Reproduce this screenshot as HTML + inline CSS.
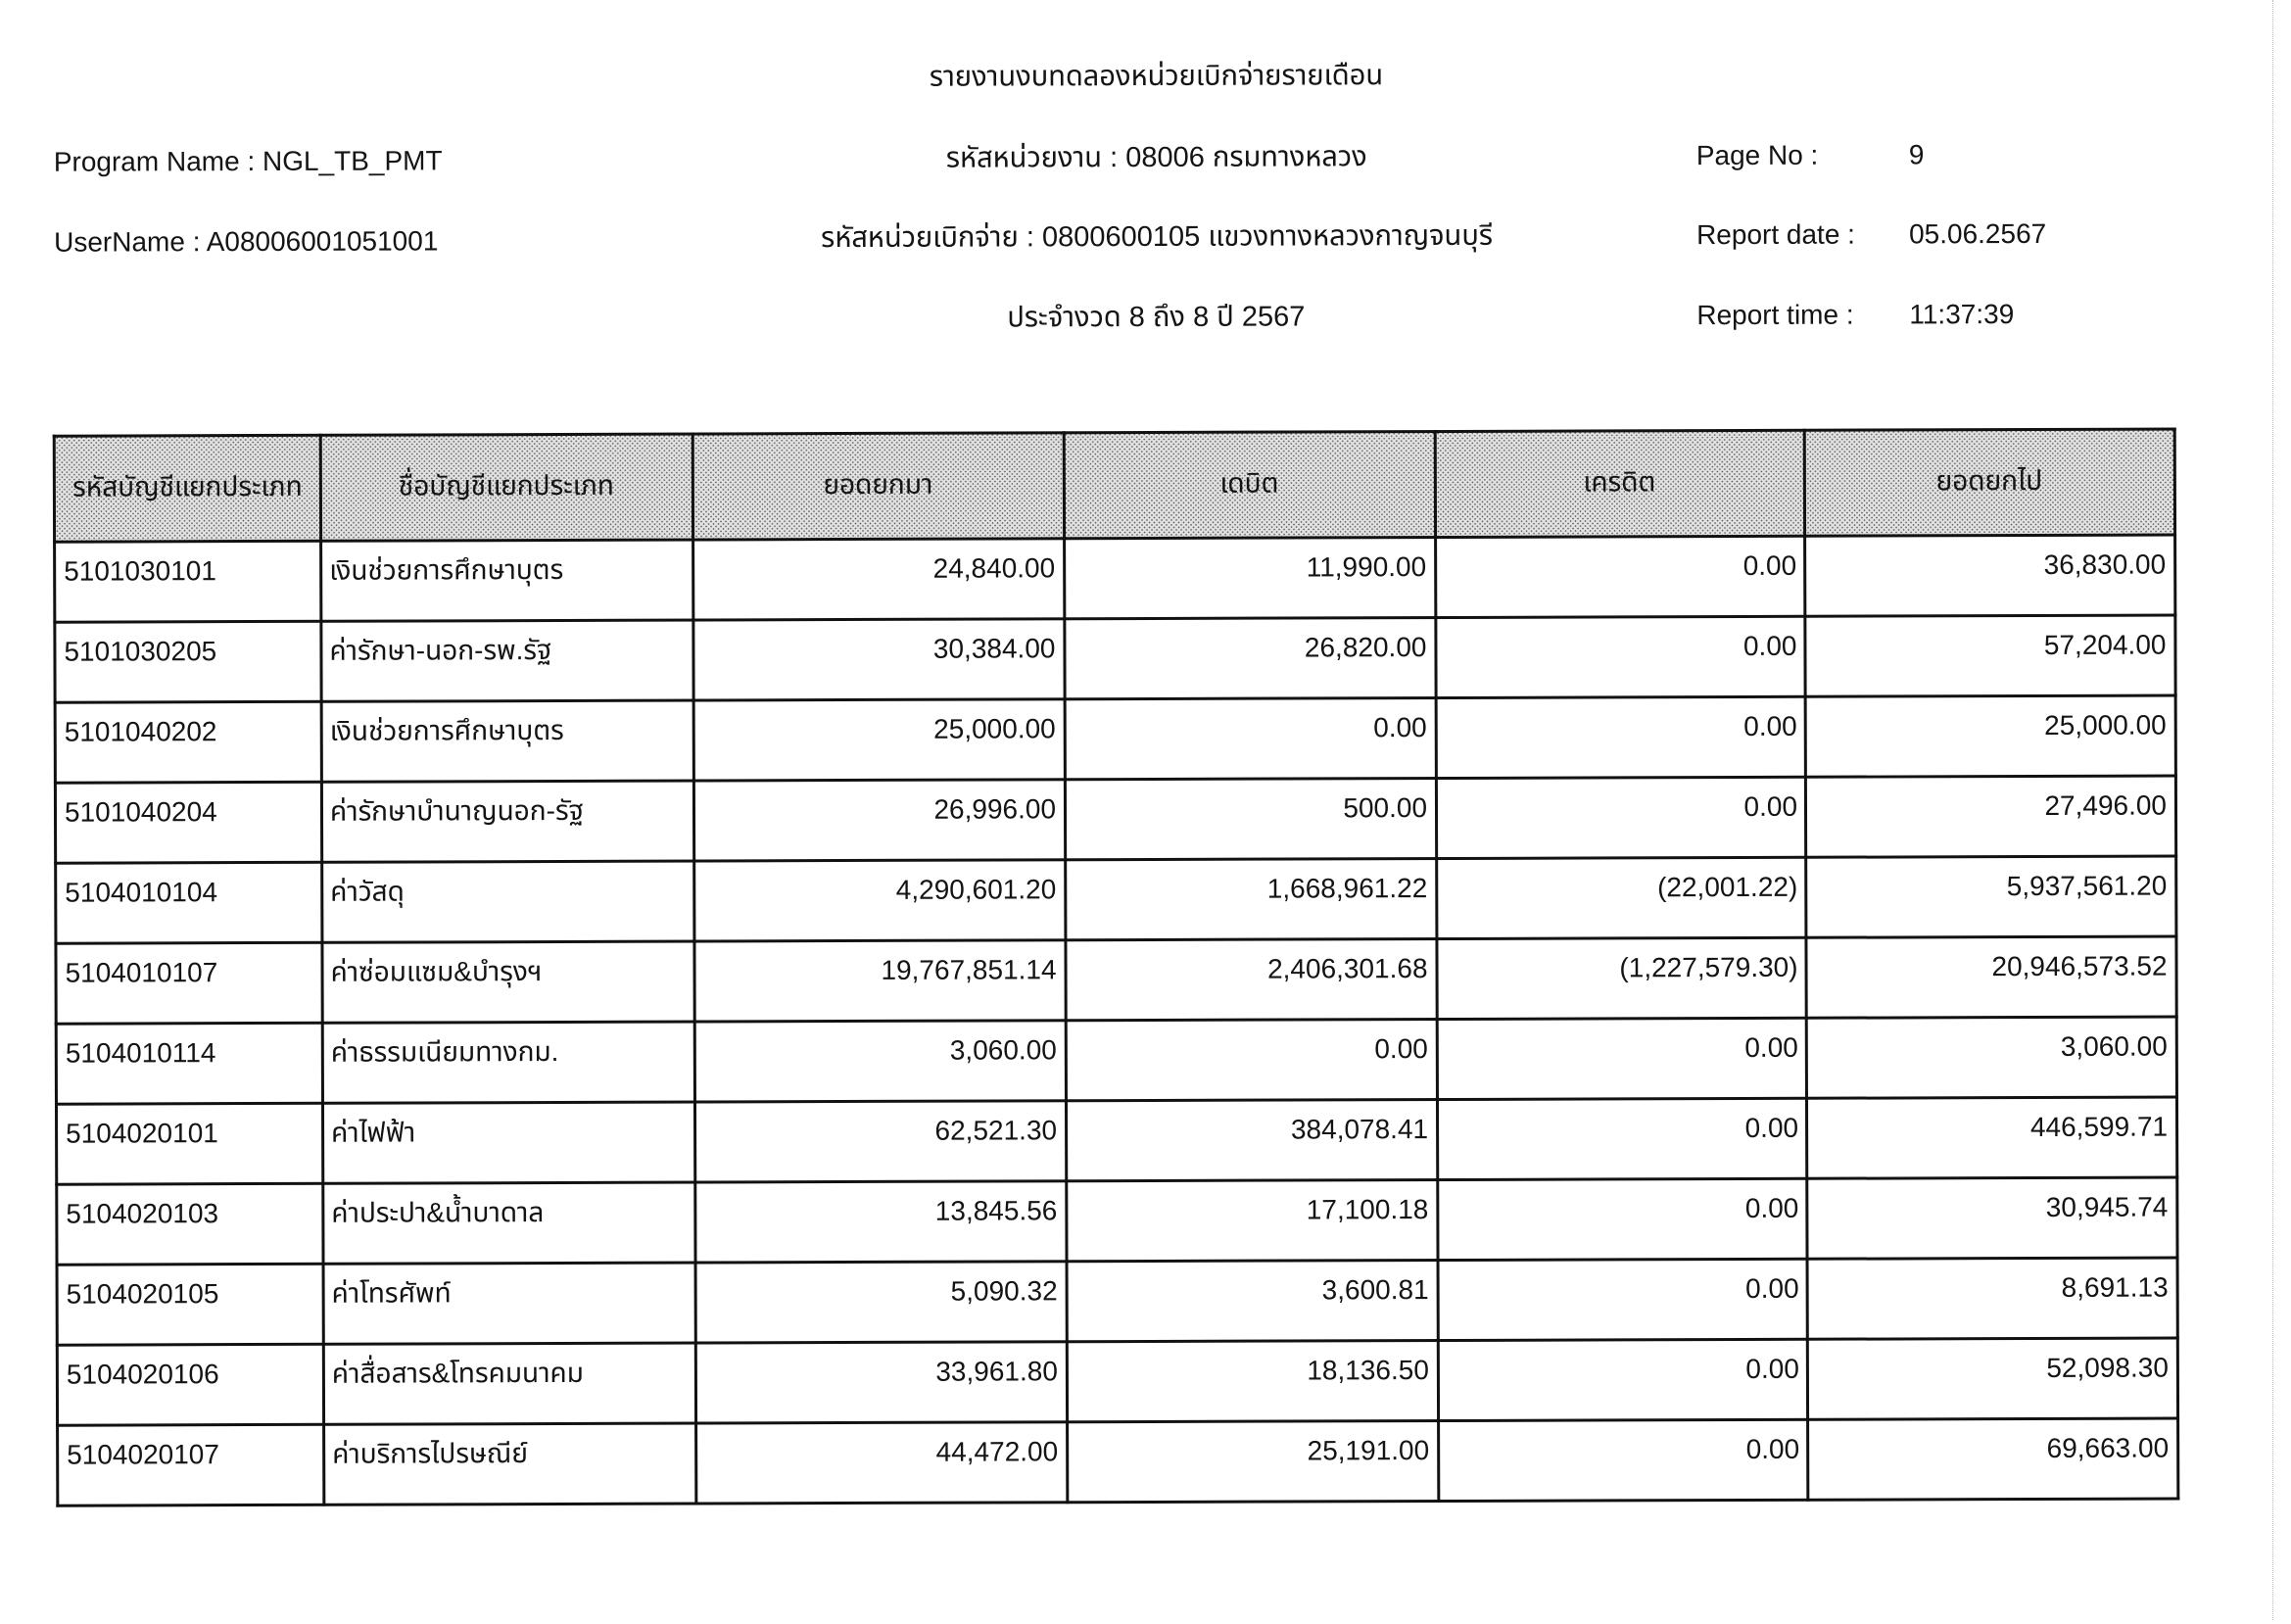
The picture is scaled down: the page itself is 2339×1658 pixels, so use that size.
<!DOCTYPE html>
<html>
<head>
<meta charset="utf-8">
<style>
  html,body{margin:0;padding:0;background:#fff;}
  body{width:2339px;height:1654px;position:relative;overflow:hidden;}
  #pg{position:absolute;left:0;top:0;width:2339px;height:1654px;transform:rotate(-0.19deg);transform-origin:1170px 827px;
      font-family:"Liberation Sans","Tahoma","Noto Sans Thai","Loma","Garuda","Norasi","DejaVu Sans",sans-serif;color:#141414;font-size:28px;}
  .t{position:absolute;height:40px;line-height:40px;white-space:nowrap;}
  .c{text-align:center;}
  .r{text-align:right;}
  .th{font-size:29px;}
  .hl{position:absolute;left:55px;width:2168px;height:3px;background:#111;}
  .vl{position:absolute;top:440px;height:1095px;width:3px;background:#111;}
  .hdr{position:absolute;left:57px;top:441px;width:2164px;height:108px;
       background-color:#e2e2e2;
       background-image:radial-gradient(circle,#555 0.6px,transparent 1px),radial-gradient(circle,#555 0.6px,transparent 1px);
       background-size:5px 5px,5px 5px;background-position:0 0,2.5px 2.5px;}
  .edge{position:absolute;left:2320px;top:0;width:0;height:1654px;border-left:1px dotted #bbb;}
</style>
</head>
<body>
<div class="edge"></div>
<div id="pg">
  <!-- Header text -->
  <div class="t c th" style="left:783px;width:800px;top:58px;">รายงานงบทดลองหน่วยเบิกจ่ายรายเดือน</div>
  <div class="t" style="left:57px;top:142px;">Program Name : NGL_TB_PMT</div>
  <div class="t c th" style="left:783px;width:800px;top:141px;">รหัสหน่วยงาน : 08006 กรมทางหลวง</div>
  <div class="t" style="left:1734px;top:141px;">Page No :</div>
  <div class="t" style="left:1951px;top:141px;">9</div>

  <div class="t" style="left:57px;top:224px;">UserName : A08006001051001</div>
  <div class="t c th" style="left:783px;width:800px;top:222px;">รหัสหน่วยเบิกจ่าย : 0800600105 แขวงทางหลวงกาญจนบุรี</div>
  <div class="t" style="left:1734px;top:222px;">Report date :</div>
  <div class="t" style="left:1951px;top:222px;">05.06.2567</div>

  <div class="t c th" style="left:782px;width:800px;top:304px;">ประจำงวด 8 ถึง 8 ปี 2567</div>
  <div class="t" style="left:1734px;top:304px;">Report time :</div>
  <div class="t" style="left:1951px;top:304px;">11:37:39</div>

  <!-- Header shading -->
  <div class="hdr"></div>

  <!-- Table lines: horizontal -->
  <div class="hl" style="top:440px;"></div>
  <div class="hl" style="top:548px;"></div>
  <div class="hl" style="top:630px;"></div>
  <div class="hl" style="top:712px;"></div>
  <div class="hl" style="top:794px;"></div>
  <div class="hl" style="top:876px;"></div>
  <div class="hl" style="top:958px;"></div>
  <div class="hl" style="top:1040px;"></div>
  <div class="hl" style="top:1122px;"></div>
  <div class="hl" style="top:1204px;"></div>
  <div class="hl" style="top:1286px;"></div>
  <div class="hl" style="top:1368px;"></div>
  <div class="hl" style="top:1450px;"></div>
  <div class="hl" style="top:1532px;"></div>
  <!-- vertical -->
  <div class="vl" style="left:55px;"></div>
  <div class="vl" style="left:327px;"></div>
  <div class="vl" style="left:707px;"></div>
  <div class="vl" style="left:1086px;"></div>
  <div class="vl" style="left:1465px;"></div>
  <div class="vl" style="left:1842px;"></div>
  <div class="vl" style="left:2220px;"></div>

  <!-- Header labels -->
  <div class="t c" style="left:57px;width:271px;top:474px;">รหัสบัญชีแยกประเภท</div>
  <div class="t c" style="left:328px;width:380px;top:474px;">ชื่อบัญชีแยกประเภท</div>
  <div class="t c" style="left:708px;width:379px;top:474px;">ยอดยกมา</div>
  <div class="t c" style="left:1087px;width:379px;top:474px;">เดบิต</div>
  <div class="t c" style="left:1466px;width:377px;top:474px;">เครดิต</div>
  <div class="t c" style="left:1843px;width:378px;top:474px;">ยอดยกไป</div>

  <!-- Row 1 -->
  <div class="t" style="left:66px;top:560px;">5101030101</div>
  <div class="t" style="left:337px;top:560px;">เงินช่วยการศึกษาบุตร</div>
  <div class="t r" style="left:708px;width:370px;top:560px;">24,840.00</div>
  <div class="t r" style="left:1087px;width:370px;top:560px;">11,990.00</div>
  <div class="t r" style="left:1466px;width:369px;top:560px;">0.00</div>
  <div class="t r" style="left:1843px;width:369px;top:560px;">36,830.00</div>
  <!-- Row 2 -->
  <div class="t" style="left:66px;top:642px;">5101030205</div>
  <div class="t" style="left:337px;top:642px;">ค่ารักษา-นอก-รพ.รัฐ</div>
  <div class="t r" style="left:708px;width:370px;top:642px;">30,384.00</div>
  <div class="t r" style="left:1087px;width:370px;top:642px;">26,820.00</div>
  <div class="t r" style="left:1466px;width:369px;top:642px;">0.00</div>
  <div class="t r" style="left:1843px;width:369px;top:642px;">57,204.00</div>
  <!-- Row 3 -->
  <div class="t" style="left:66px;top:724px;">5101040202</div>
  <div class="t" style="left:337px;top:724px;">เงินช่วยการศึกษาบุตร</div>
  <div class="t r" style="left:708px;width:370px;top:724px;">25,000.00</div>
  <div class="t r" style="left:1087px;width:370px;top:724px;">0.00</div>
  <div class="t r" style="left:1466px;width:369px;top:724px;">0.00</div>
  <div class="t r" style="left:1843px;width:369px;top:724px;">25,000.00</div>
  <!-- Row 4 -->
  <div class="t" style="left:66px;top:806px;">5101040204</div>
  <div class="t" style="left:337px;top:806px;">ค่ารักษาบำนาญนอก-รัฐ</div>
  <div class="t r" style="left:708px;width:370px;top:806px;">26,996.00</div>
  <div class="t r" style="left:1087px;width:370px;top:806px;">500.00</div>
  <div class="t r" style="left:1466px;width:369px;top:806px;">0.00</div>
  <div class="t r" style="left:1843px;width:369px;top:806px;">27,496.00</div>
  <!-- Row 5 -->
  <div class="t" style="left:66px;top:888px;">5104010104</div>
  <div class="t" style="left:337px;top:888px;">ค่าวัสดุ</div>
  <div class="t r" style="left:708px;width:370px;top:888px;">4,290,601.20</div>
  <div class="t r" style="left:1087px;width:370px;top:888px;">1,668,961.22</div>
  <div class="t r" style="left:1466px;width:369px;top:888px;">(22,001.22)</div>
  <div class="t r" style="left:1843px;width:369px;top:888px;">5,937,561.20</div>
  <!-- Row 6 -->
  <div class="t" style="left:66px;top:970px;">5104010107</div>
  <div class="t" style="left:337px;top:970px;">ค่าซ่อมแซม&amp;บำรุงฯ</div>
  <div class="t r" style="left:708px;width:370px;top:970px;">19,767,851.14</div>
  <div class="t r" style="left:1087px;width:370px;top:970px;">2,406,301.68</div>
  <div class="t r" style="left:1466px;width:369px;top:970px;">(1,227,579.30)</div>
  <div class="t r" style="left:1843px;width:369px;top:970px;">20,946,573.52</div>
  <!-- Row 7 -->
  <div class="t" style="left:66px;top:1052px;">5104010114</div>
  <div class="t" style="left:337px;top:1052px;">ค่าธรรมเนียมทางกม.</div>
  <div class="t r" style="left:708px;width:370px;top:1052px;">3,060.00</div>
  <div class="t r" style="left:1087px;width:370px;top:1052px;">0.00</div>
  <div class="t r" style="left:1466px;width:369px;top:1052px;">0.00</div>
  <div class="t r" style="left:1843px;width:369px;top:1052px;">3,060.00</div>
  <!-- Row 8 -->
  <div class="t" style="left:66px;top:1134px;">5104020101</div>
  <div class="t" style="left:337px;top:1134px;">ค่าไฟฟ้า</div>
  <div class="t r" style="left:708px;width:370px;top:1134px;">62,521.30</div>
  <div class="t r" style="left:1087px;width:370px;top:1134px;">384,078.41</div>
  <div class="t r" style="left:1466px;width:369px;top:1134px;">0.00</div>
  <div class="t r" style="left:1843px;width:369px;top:1134px;">446,599.71</div>
  <!-- Row 9 -->
  <div class="t" style="left:66px;top:1216px;">5104020103</div>
  <div class="t" style="left:337px;top:1216px;">ค่าประปา&amp;น้ำบาดาล</div>
  <div class="t r" style="left:708px;width:370px;top:1216px;">13,845.56</div>
  <div class="t r" style="left:1087px;width:370px;top:1216px;">17,100.18</div>
  <div class="t r" style="left:1466px;width:369px;top:1216px;">0.00</div>
  <div class="t r" style="left:1843px;width:369px;top:1216px;">30,945.74</div>
  <!-- Row 10 -->
  <div class="t" style="left:66px;top:1298px;">5104020105</div>
  <div class="t" style="left:337px;top:1298px;">ค่าโทรศัพท์</div>
  <div class="t r" style="left:708px;width:370px;top:1298px;">5,090.32</div>
  <div class="t r" style="left:1087px;width:370px;top:1298px;">3,600.81</div>
  <div class="t r" style="left:1466px;width:369px;top:1298px;">0.00</div>
  <div class="t r" style="left:1843px;width:369px;top:1298px;">8,691.13</div>
  <!-- Row 11 -->
  <div class="t" style="left:66px;top:1380px;">5104020106</div>
  <div class="t" style="left:337px;top:1380px;">ค่าสื่อสาร&amp;โทรคมนาคม</div>
  <div class="t r" style="left:708px;width:370px;top:1380px;">33,961.80</div>
  <div class="t r" style="left:1087px;width:370px;top:1380px;">18,136.50</div>
  <div class="t r" style="left:1466px;width:369px;top:1380px;">0.00</div>
  <div class="t r" style="left:1843px;width:369px;top:1380px;">52,098.30</div>
  <!-- Row 12 -->
  <div class="t" style="left:66px;top:1462px;">5104020107</div>
  <div class="t" style="left:337px;top:1462px;">ค่าบริการไปรษณีย์</div>
  <div class="t r" style="left:708px;width:370px;top:1462px;">44,472.00</div>
  <div class="t r" style="left:1087px;width:370px;top:1462px;">25,191.00</div>
  <div class="t r" style="left:1466px;width:369px;top:1462px;">0.00</div>
  <div class="t r" style="left:1843px;width:369px;top:1462px;">69,663.00</div>
</div>
</body>
</html>
